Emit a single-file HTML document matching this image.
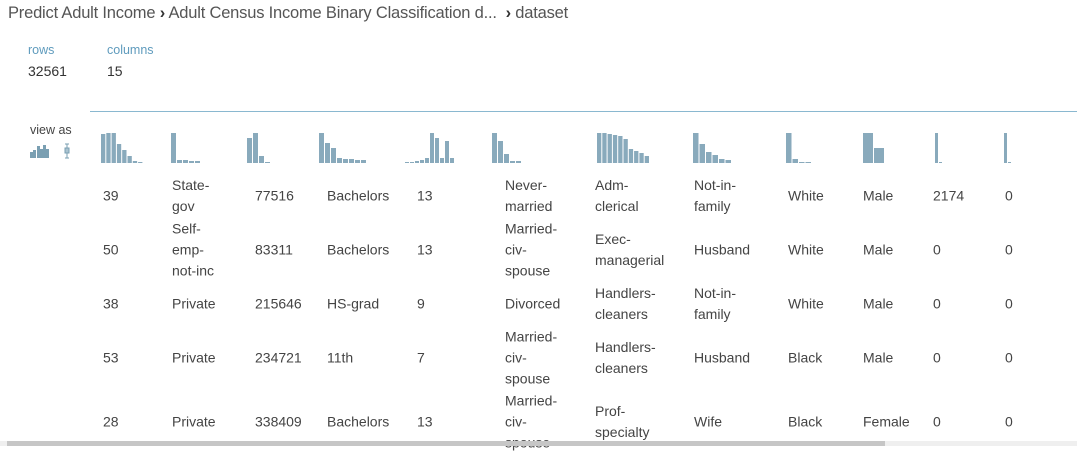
<!DOCTYPE html>
<html><head><meta charset="utf-8">
<style>
body{margin:0;width:1077px;height:446px;overflow:hidden;background:#fff;font-family:"Liberation Sans",sans-serif;color:#444;position:relative}
.a{position:absolute;white-space:nowrap}
.cell{position:absolute;font-size:14px;line-height:21px;color:#444;transform:translateY(-50%)}
#bc{left:8px;top:4px;font-size:16.5px;color:#555;letter-spacing:-0.2px}
.lbl{font-size:12.5px;color:#5f9bbd}
.val{font-size:14px;color:#333}
</style></head><body>
<div id="bc" class="a"><span>Predict Adult Income</span> <b style="color:#333">&#8250;</b> <span>Adult Census Income Binary Classification d...</span> &nbsp;<b style="color:#333">&#8250;</b> <span>dataset</span></div>
<div class="a lbl" style="left:28px;top:43px">rows</div>
<div class="a val" style="left:28px;top:63px">32561</div>
<div class="a lbl" style="left:107px;top:43px">columns</div>
<div class="a val" style="left:107px;top:63px">15</div>
<div class="a" style="left:90px;top:111px;width:987px;height:1px;background:#8ab8d0"></div>
<div class="a" style="left:30px;top:123px;font-size:12.5px;color:#444">view as</div>
<svg class="a" style="left:30px;top:143px" width="50" height="17">
<g fill="#7a9fb2"><rect x="0" y="9" width="3" height="6"/><rect x="3" y="7" width="3" height="8"/><rect x="7" y="3" width="3" height="12"/><rect x="10" y="6" width="3" height="9"/><rect x="13" y="2" width="3" height="13"/><rect x="16" y="6" width="3" height="9"/></g>
<g stroke="#7a9fb2" fill="#aac3d0"><line x1="35" y1="1" x2="39" y2="1"/><line x1="37" y1="1" x2="37" y2="15"/><line x1="35" y1="15" x2="39" y2="15"/><rect x="35" y="5" width="4" height="5"/></g>
</svg>
<svg id="hist" class="a" style="left:0;top:125px" width="1077" height="45"></svg>
<div id="tbl"></div>
<div class="a" style="left:0;top:441px;width:1077px;height:5px;background:#efefef"></div>
<div class="a" style="left:7px;top:441px;width:878px;height:5px;background:#c6c6c6"></div>
<script>
const colX=[103,172,255,327,417,505,595,694,788,863,933,1005];
const histStart=[101,171,247,319,405,492,597,693,786,863,935,1004];
const histBarW=[4.3,5,5,5,4,5,4.3,5.5,5.5,10,3,3];
const hist0=[29,30,30,19,13,7,2,1];
const hist1=[30,3,3,2,2];
const hist2=[25,30,7,1];
const hist3=[30,20,15,5,4,4,3,3];
const hist4=[1,1,2,3,5,30,25,5,22,5];
const hist5=[30,22,9,2,2];
const hist6=[30,30,29,28,27,24,14,12,10,7];
const hist7=[30,19,11,8,4,3];
const hist8=[30,4,1,1];
const hist9=[30,15];
const hist10=[30,1];
const hist11=[30,1];
const hists=[hist0,hist1,hist2,hist3,hist4,hist5,hist6,hist7,hist8,hist9,hist10,hist11];
const ns="http://www.w3.org/2000/svg";
const svg=document.getElementById('hist');
const base=38, maxH=30;
function yScale(v){return base-v/30*maxH;}
hists.forEach((h,i)=>{
  const g=document.createElementNS(ns,'g');
  
  
  h.forEach((v,j)=>{
    const r=document.createElementNS(ns,'rect');
    const w=histBarW[i];
    r.setAttribute('x',histStart[i]+j*(w+1));
    r.setAttribute('y',yScale(v));
    r.setAttribute('width',w);
    r.setAttribute('height',base-yScale(v));
    r.setAttribute('fill','#89aabc');
    
    
    g.appendChild(r);
  });
  svg.appendChild(g);
});
const rowsData=[
 ["39","State-<br>gov","77516","Bachelors","13","Never-<br>married","Adm-<br>clerical","Not-in-<br>family","White","Male","2174","0"],
 ["50","Self-<br>emp-<br>not-inc","83311","Bachelors","13","Married-<br>civ-<br>spouse","Exec-<br>managerial","Husband","White","Male","0","0"],
 ["38","Private","215646","HS-grad","9","Divorced","Handlers-<br>cleaners","Not-in-<br>family","White","Male","0","0"],
 ["53","Private","234721","11th","7","Married-<br>civ-<br>spouse","Handlers-<br>cleaners","Husband","Black","Male","0","0"],
 ["28","Private","338409","Bachelors","13","Married-<br>civ-<br>spouse","Prof-<br>specialty","Wife","Black","Female","0","0"]
];
const rowY=[196,250,304,358,422];
const tbl=document.getElementById('tbl');
rowsData.forEach((r,ri)=>{
  r.forEach((c,ci)=>{
    const d=document.createElement('div');
    d.className='cell';
    d.style.left=colX[ci]+'px';
    d.style.top=rowY[ri]+'px';
    d.innerHTML=c;
    
    
    tbl.appendChild(d);
  });
});
</script>
</body></html>
